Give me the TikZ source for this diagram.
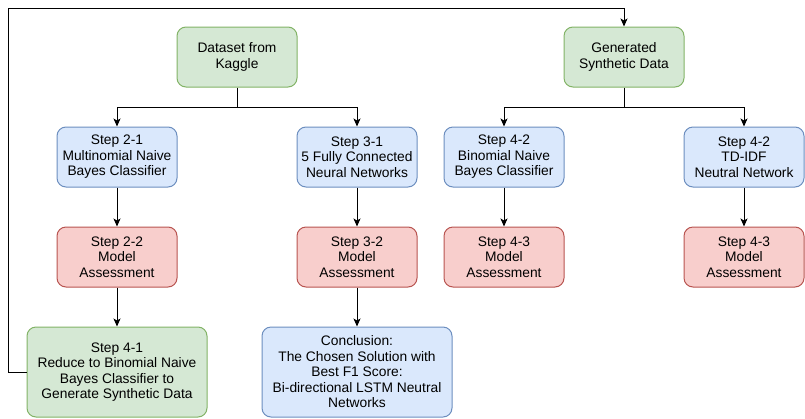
\documentclass[tikz,border=0pt]{standalone}
\usepackage{fontspec}
\setmainfont{Liberation Sans}
\usetikzlibrary{arrows.meta}
\definecolor{gfill}{HTML}{D5E8D4}\definecolor{gdraw}{HTML}{82B366}
\definecolor{bfill}{HTML}{DAE8FC}\definecolor{bdraw}{HTML}{6C8EBF}
\definecolor{rfill}{HTML}{F8CECC}\definecolor{rdraw}{HTML}{B85450}
\tikzset{
  box/.style={rectangle, rounded corners=9pt, line width=1pt, align=center,
    minimum width=120pt, minimum height=60pt, inner sep=0pt,
    font=\fontsize{13.8pt}{15.5pt}\selectfont},
  gbox/.style={box, fill=gfill, draw=gdraw},
  bbox/.style={box, fill=bfill, draw=bdraw},
  rbox/.style={box, fill=rfill, draw=rdraw},
  conn/.style={line width=1pt, -{Stealth[length=8pt,width=7pt,inset=2pt]}},
  plain/.style={line width=1pt}
}
\begin{document}
\begin{tikzpicture}[x=1pt,y=-1pt]
\useasboundingbox (0,0) rectangle (805,418);
\node[gbox] (ds) at (237,57) {Dataset from\\Kaggle};
\node[gbox] (gen) at (624,57) {Generated\\Synthetic Data};
\node[bbox] (s21) at (117,157) {Step 2-1\\Multinomial Naive\\Bayes Classifier};
\node[bbox] (s31) at (357,157) {Step 3-1\\5 Fully Connected\\Neural Networks};
\node[bbox] (s42a) at (504,157) {Step 4-2\\Binomial Naive\\Bayes Classifier};
\node[bbox] (s42b) at (744,157) {Step 4-2\\TD-IDF\\Neutral Network};
\node[rbox] (s22) at (117,257) {Step 2-2\\Model\\Assessment};
\node[rbox] (s32) at (357,257) {Step 3-2\\Model\\Assessment};
\node[rbox] (s43a) at (504,257) {Step 4-3\\Model\\Assessment};
\node[rbox] (s43b) at (744,257) {Step 4-3\\Model\\Assessment};
\node[gbox, minimum width=180pt, minimum height=90pt] (s41) at (117,372) {Step 4-1\\Reduce to Binomial Naive\\Bayes Classifier to\\Generate Synthetic Data};
\node[bbox, minimum width=190pt, minimum height=90pt] (conc) at (357,372) {Conclusion:\\The Chosen Solution with\\Best F1 Score:\\Bi-directional LSTM Neutral\\Networks};
\coordinate (dsb) at (237,107);
\coordinate (genb) at (624,107);
\draw[plain] (ds.south) -- (dsb);
\draw[conn] (dsb) -| (s21.north);
\draw[conn] (dsb) -| (s31.north);
\draw[plain] (gen.south) -- (genb);
\draw[conn] (genb) -| (s42a.north);
\draw[conn] (genb) -| (s42b.north);
\draw[conn] (s21) -- (s22);
\draw[conn] (s22) -- (s41);
\draw[conn] (s31) -- (s32);
\draw[conn] (s32) -- (conc);
\draw[conn] (s42a) -- (s43a);
\draw[conn] (s42b) -- (s43b);
\coordinate (lb) at (8,372);
\coordinate (lt) at (8,8);
\draw[conn] (s41.west) -- (lb) -- (lt) -| (gen.north);
\end{tikzpicture}
\end{document}
